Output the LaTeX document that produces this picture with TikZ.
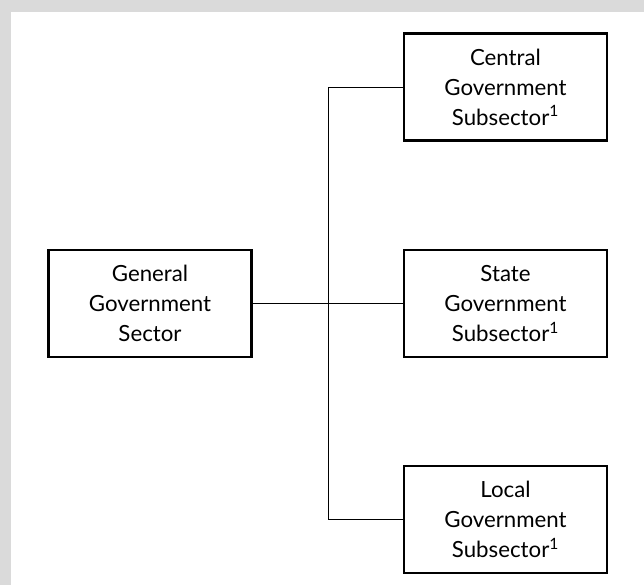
\documentclass[tikz,border=0pt]{standalone}
\usepackage{fontspec}
\setmainfont{Lato}
\definecolor{framegray}{HTML}{DADADA}
\begin{document}
\begin{tikzpicture}[x=0.75pt,y=-0.75pt,
  box/.style={draw=black,line width=1.8pt,fill=white,minimum width=152pt,minimum height=80pt,align=center,inner sep=0pt,font=\fontsize{16.7}{22.5}\selectfont},
  link/.style={draw=black,line width=0.7pt}]
\useasboundingbox (0,0) rectangle (644,585);
\fill[framegray] (0,0) rectangle (644,585);
\fill[white] (11,12) rectangle (644,585);
\node[box] (gen) at (150,303.5) {General\\Government\\Sector};
\node[box] (cen) at (505.5,87) {Central\\Government\\Subsector\textsuperscript{1}};
\node[box] (sta) at (505.5,303.5) {State\\Government\\Subsector\textsuperscript{1}};
\node[box] (loc) at (505.5,519.5) {Local\\Government\\Subsector\textsuperscript{1}};
\coordinate (top) at (328,87);
\coordinate (bot) at (328,519.5);
\draw[link] (cen.west) -- (top) -- (bot) -- (loc.west);
\draw[link] (gen.east) -- (sta.west);
\end{tikzpicture}
\end{document}
